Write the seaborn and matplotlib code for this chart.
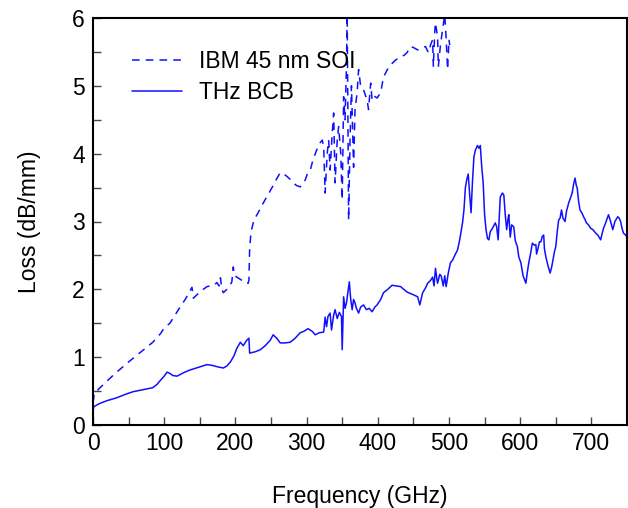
import numpy as np
import pandas as pd
import matplotlib
matplotlib.use("Agg")
import matplotlib.pyplot as plt
import seaborn as sns
from matplotlib.ticker import MultipleLocator

# ---- data ----
ibm_freq = [0, 2, 10, 30, 50, 70, 84, 95, 100, 108, 120, 130, 139, 141, 150, 160, 170, 174, 177, 179,
            181, 183, 190, 195, 197, 199, 202, 208, 213, 218, 219, 220, 222, 226, 233, 239, 246, 252, 258, 263,
            268, 273, 277, 281, 286, 291, 295, 298, 301, 305, 309, 314, 319, 322, 324, 326, 329, 331, 333, 336,
            338, 340, 343, 345, 348, 350, 352, 354, 356, 357, 359, 361, 363, 366, 368, 371, 373, 376, 380, 385,
            387, 390, 392, 395, 399, 404, 408, 415, 420, 425, 432, 437, 441, 446, 451, 456, 462, 467, 471, 474,
            477, 478, 480, 481, 484, 485, 488, 491, 494, 496, 498, 500, 501]
ibm_loss = [0.33, 0.47, 0.55, 0.75, 0.93, 1.10, 1.22, 1.35, 1.43, 1.50, 1.70, 1.86, 2.03, 1.87, 1.96, 2.04, 2.06, 2.10, 2.05, 2.17,
            2.00, 1.95, 2.02, 2.11, 2.33, 2.20, 2.18, 2.14, 2.10, 2.09, 2.14, 2.60, 2.85, 3.02, 3.15, 3.27, 3.40, 3.51, 3.63, 3.72,
            3.70, 3.66, 3.62, 3.57, 3.53, 3.51, 3.58, 3.61, 3.70, 3.75, 3.91, 4.05, 4.16, 4.20, 4.10, 3.42, 4.01, 4.20, 3.76, 4.30,
            4.60, 3.57, 4.20, 4.40, 4.00, 3.32, 4.84, 4.50, 5.30, 6.05, 3.02, 4.20, 5.00, 3.80, 4.65, 4.90, 5.24, 4.99, 4.94, 4.79,
            4.65, 5.04, 4.79, 4.85, 4.82, 4.90, 5.13, 5.27, 5.33, 5.38, 5.43, 5.45, 5.49, 5.58, 5.56, 5.53, 5.55, 5.58, 5.49, 5.60,
            5.68, 5.28, 5.80, 5.93, 5.72, 5.28, 5.60, 5.83, 6.05, 5.70, 5.24, 5.68, 5.60]

bcb_freq = [0, 1, 10, 20, 33, 45, 56, 70, 84, 90, 94, 100, 104, 108, 112, 118, 127, 136, 148, 160,
            167, 174, 183, 188, 193, 198, 202, 207, 211, 216, 219, 220, 228, 235, 242, 249, 253, 258, 263, 270,
            277, 284, 291, 296, 302, 308, 312, 318, 324, 326, 328, 330, 333, 335, 338, 340, 343, 346, 349, 350,
            352, 354, 356, 358, 360, 362, 364, 366, 368, 370, 373, 376, 380, 384, 388, 392, 396, 399, 404, 408,
            414, 420, 426, 432, 441, 450, 456, 459, 463, 467, 470, 474, 477, 479, 481, 483, 484, 487, 489, 492,
            494, 496, 499, 502, 505, 509, 512, 515, 519, 521, 523, 525, 527, 529, 531, 533, 535, 537, 540, 542,
            544, 546, 548, 550, 552, 554, 556, 558, 561, 565, 567, 569, 572, 575, 577, 579, 581, 583, 584, 586,
            588, 591, 593, 596, 598, 601, 604, 608, 610, 612, 615, 617, 620, 622, 623, 625, 627, 629, 631, 633,
            634, 636, 639, 642, 644, 646, 648, 650, 652, 654, 656, 658, 660, 663, 665, 668, 670, 673, 675, 677,
            679, 680, 682, 684, 687, 689, 691, 693, 696, 699, 702, 706, 709, 713, 715, 717, 720, 724, 727, 730,
            733, 737, 739, 741, 743, 745, 748, 750]
bcb_loss = [0.19, 0.27, 0.32, 0.36, 0.40, 0.45, 0.49, 0.52, 0.55, 0.60, 0.65, 0.72, 0.78, 0.76, 0.73, 0.72, 0.77, 0.81, 0.85, 0.89,
            0.88, 0.86, 0.84, 0.87, 0.93, 1.02, 1.13, 1.22, 1.17, 1.25, 1.28, 1.06, 1.08, 1.11, 1.17, 1.25, 1.33, 1.28, 1.21, 1.21,
            1.22, 1.28, 1.36, 1.38, 1.42, 1.38, 1.33, 1.36, 1.37, 1.59, 1.45, 1.60, 1.65, 1.40, 1.62, 1.70, 1.57, 1.66, 1.60, 1.11,
            1.89, 1.72, 1.80, 1.95, 2.11, 1.85, 1.70, 1.85, 1.80, 1.72, 1.65, 1.74, 1.77, 1.70, 1.72, 1.67, 1.74, 1.77, 1.85, 1.95,
            2.00, 2.06, 2.05, 2.04, 1.96, 1.92, 1.89, 1.77, 1.95, 2.02, 2.09, 2.13, 2.18, 2.05, 2.31, 2.15, 2.09, 2.22, 2.20, 2.05,
            2.20, 2.04, 2.24, 2.39, 2.43, 2.52, 2.58, 2.73, 2.98, 3.17, 3.50, 3.62, 3.70, 3.40, 3.13, 3.60, 3.95, 4.05, 4.12, 4.08,
            4.12, 3.80, 3.57, 3.10, 2.88, 2.75, 2.73, 2.85, 2.90, 2.98, 2.92, 2.73, 3.36, 3.42, 3.39, 3.10, 2.88, 3.05, 3.10, 2.77,
            2.95, 2.92, 2.72, 2.63, 2.48, 2.39, 2.20, 2.09, 2.25, 2.39, 2.55, 2.68, 2.65, 2.66, 2.52, 2.60, 2.70, 2.70, 2.78, 2.80,
            2.60, 2.48, 2.35, 2.24, 2.32, 2.43, 2.55, 2.63, 2.85, 3.02, 3.05, 3.17, 3.05, 3.00, 3.15, 3.27, 3.33, 3.42, 3.55, 3.64,
            3.52, 3.50, 3.30, 3.17, 3.12, 3.07, 3.03, 2.98, 2.95, 2.90, 2.88, 2.83, 2.80, 2.73, 2.82, 2.90, 2.98, 3.10, 3.00, 2.88,
            3.00, 3.07, 3.05, 3.00, 2.90, 2.83, 2.80, 2.77]

series_names = ["IBM 45 nm SOI", "THz BCB"]
x_ticks = [0, 100, 200, 300, 400, 500, 600, 700]
y_ticks = [0, 1, 2, 3, 4, 5, 6]

# ---- style ----
sns.set_theme(style="white")
plt.rcParams['font.family'] = ['Liberation Sans', 'DejaVu Sans']
plt.rcParams['text.color'] = 'black'
plt.rcParams['axes.labelcolor'] = 'black'
plt.rcParams['xtick.direction'] = 'in'
plt.rcParams['ytick.direction'] = 'in'

fig = plt.figure(figsize=(6.28, 5.08), dpi=100)
ax = fig.add_axes([93/628, 1 - 425/508, (627 - 93)/628, (425 - 18)/508])

df_ibm = pd.DataFrame({"freq": ibm_freq, "loss": ibm_loss})
df_bcb = pd.DataFrame({"freq": bcb_freq, "loss": bcb_loss})

blue = "#1010ff"
sns.lineplot(data=df_ibm, x="freq", y="loss", ax=ax, color=blue, lw=1.1,
             linestyle=(0, (5, 4)), estimator=None, sort=False, label=series_names[0])
sns.lineplot(data=df_bcb, x="freq", y="loss", ax=ax, color=blue, lw=1.1,
             estimator=None, sort=False, label=series_names[1])

ax.set_xlim(0, 750)
ax.set_ylim(0, 6)
ax.set_xticks(x_ticks)
ax.set_yticks(y_ticks)
ax.xaxis.set_minor_locator(MultipleLocator(50))
ax.yaxis.set_minor_locator(MultipleLocator(0.5))
ax.tick_params(axis='both', which='both', direction='in', length=6, width=1,
               color='#444444', labelsize=16.5, labelcolor='black',
               bottom=True, left=True, top=False, right=False)
ax.tick_params(axis='x', pad=5)
ax.tick_params(axis='y', pad=6)

for s in ax.spines.values():
    s.set_visible(True)
    s.set_color('black')
    s.set_linewidth(1.5)

ax.set_xlabel("Frequency (GHz)", fontsize=16.5, labelpad=22, color='black')
ax.set_ylabel("Loss (dB/mm)", fontsize=16.5, labelpad=22, color='black')

leg = ax.legend(loc='upper left', bbox_to_anchor=(0.055, 0.945), frameon=False,
                fontsize=16.5, handlelength=2.2, handletextpad=0.75, labelspacing=0.35,
                borderaxespad=0, labelcolor='black')

fig.savefig("out.png", dpi=100)
